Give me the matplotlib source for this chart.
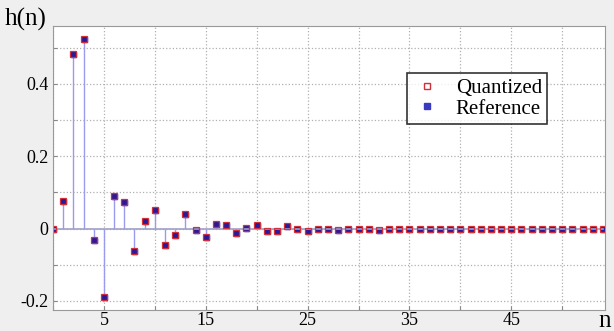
import numpy as np
import matplotlib.pyplot as plt
from matplotlib.lines import Line2D

plt.rcParams['font.family'] = ['Liberation Serif', 'DejaVu Serif']

n = np.arange(55)
h_ref = [0.0, 0.076, 0.483, 0.524, -0.032, -0.188, 0.090, 0.074, -0.061, 0.022,
         0.052, -0.044, -0.019, 0.040, -0.003, -0.022, 0.014, 0.009, -0.013, 0.001,
         0.009, -0.006, -0.006, 0.006, 0.0, -0.006, 0.0, 0.0, -0.003, 0.0,
         0.0, 0.0, -0.004, 0.0, 0.0, 0.0, 0.0, 0.0, 0.0, 0.0,
         0.0, 0.0, 0.0, 0.0, 0.0, 0.0, 0.0, 0.0, 0.0, 0.0,
         0.0, 0.0, 0.0, 0.0, 0.0]
h_q = h_ref  # quantized values coincide with reference at this scale

xticks = np.arange(0, 55, 5)
xlabels = ['' if t % 10 == 0 else str(t) for t in xticks]
yticks = np.round(np.arange(-0.2, 0.51, 0.1), 1)
ylabels = {-0.2: '-0.2', 0.0: '0', 0.2: '0.2', 0.4: '0.4'}

fig = plt.figure(figsize=(6.14, 3.31), dpi=100, facecolor='#efefef')
ax = fig.add_axes([0.0863, 0.0634, 0.8990, 0.8581])
ax.set_facecolor('white')

ml, sl, bl = ax.stem(n, h_ref, linefmt='-', markerfmt='s', basefmt='-')
plt.setp(sl, color='#9a9aee', linewidth=1.0)
plt.setp(bl, color='#a0a0c8', linewidth=1.2)
plt.setp(ml, markerfacecolor='#2a1a9a', markeredgecolor='#2a1a9a', markersize=3.6)
ax.plot(n, h_q, 's', markerfacecolor='none', markeredgecolor='#d0303a',
        markersize=4.6, markeredgewidth=0.9)

ax.set_xlim(0, 54.2)
ax.set_ylim(-0.225, 0.56)
ax.set_xticks(xticks)
ax.set_xticklabels(xlabels, fontsize=13)
ax.set_yticks(yticks)
ax.set_yticklabels([ylabels.get(round(t, 1), '') for t in yticks], fontsize=13)
ax.tick_params(direction='in', length=3, color='#888888')
ax.tick_params(axis='x', pad=1.5)
ax.grid(True, linestyle=':', color='#b0b0b0', linewidth=0.9)
ax.set_axisbelow(True)
for s in ax.spines.values():
    s.set_color('#999999')

hq = Line2D([], [], marker='s', linestyle='none', markerfacecolor='none',
            markeredgecolor='#d0303a', markersize=4)
hr = Line2D([], [], marker='s', linestyle='none', markerfacecolor='#3a3ac0',
            markeredgecolor='#3a3ac0', markersize=4)
leg = ax.legend([hq, hr], ['Quantized', 'Reference'], loc='upper left',
                bbox_to_anchor=(0.622, 0.87), fontsize=15, frameon=True,
                fancybox=False, edgecolor='black', handletextpad=0.7,
                borderpad=0.25, labelspacing=0.05, handlelength=1.4)
leg.get_frame().set_linewidth(1.2)

fig.text(0.008, 0.94, 'h(n)', fontsize=18, va='center', ha='left')
fig.text(0.985, 0.03, 'n', fontsize=18, va='center', ha='center')

fig.savefig('out.png', dpi=100, facecolor=fig.get_facecolor())
